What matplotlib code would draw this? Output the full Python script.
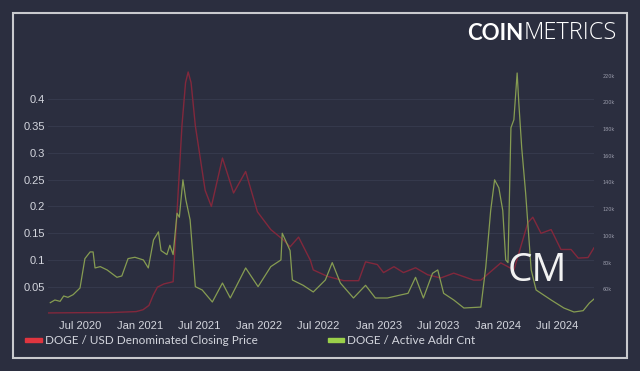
import numpy as np
import pandas as pd
import matplotlib
matplotlib.use("Agg")
from matplotlib import pyplot as plt
from matplotlib.patches import Rectangle

# DOGE / USD closing price (left axis)
price_dates = ["2020-03-25", "2020-07-01", "2020-10-01", "2020-12-20", "2021-01-10",
               "2021-01-28", "2021-02-10", "2021-02-23", "2021-03-15", "2021-04-12",
               "2021-04-24", "2021-05-09", "2021-05-20", "2021-05-28", "2021-06-06",
               "2021-06-19", "2021-07-04",
               "2021-07-19", "2021-08-07", "2021-09-10", "2021-10-14", "2021-11-20",
               "2021-12-26", "2022-02-05", "2022-03-15", "2022-04-05", "2022-05-01",
               "2022-06-06", "2022-06-15", "2022-07-28", "2022-09-16", "2022-11-01",
               "2022-11-22", "2022-12-28", "2023-01-16", "2023-02-17", "2023-03-18",
               "2023-04-24", "2023-05-31", "2023-07-10", "2023-08-19", "2023-10-19",
               "2023-11-10", "2024-01-10", "2024-02-19", "2024-04-02", "2024-04-17",
               "2024-05-12", "2024-06-12", "2024-07-12", "2024-08-12", "2024-09-03",
               "2024-10-03", "2024-10-21"]
price = [0.002, 0.0025, 0.0027, 0.0045, 0.008,
         0.016, 0.035, 0.05, 0.056, 0.06,
         0.19, 0.35, 0.43, 0.45, 0.43,
         0.35, 0.29,
         0.23, 0.20, 0.29, 0.225, 0.265,
         0.19, 0.157, 0.138, 0.125, 0.143,
         0.10, 0.082, 0.07, 0.062, 0.062,
         0.097, 0.092, 0.077, 0.088, 0.077,
         0.086, 0.073, 0.067, 0.076, 0.063,
         0.063, 0.095, 0.082, 0.17, 0.18,
         0.15, 0.157, 0.12, 0.12, 0.104,
         0.105, 0.123]

# DOGE active address count (right axis, thousands)
addr_dates = ["2020-04-01", "2020-04-15", "2020-05-01", "2020-05-12", "2020-05-25",
              "2020-06-10", "2020-07-01", "2020-07-16", "2020-08-01", "2020-08-10",
              "2020-08-16", "2020-09-01", "2020-09-22", "2020-10-22", "2020-11-06",
              "2020-11-25", "2020-12-16", "2021-01-11", "2021-01-26", "2021-02-11",
              "2021-02-26", "2021-03-06", "2021-03-24", "2021-04-02", "2021-04-12",
              "2021-04-24", "2021-05-01", "2021-05-12", "2021-05-21", "2021-06-03",
              "2021-06-19", "2021-07-10", "2021-08-10", "2021-09-10", "2021-10-04",
              "2021-11-20", "2021-12-28", "2022-02-05", "2022-03-08", "2022-03-12",
              "2022-04-05", "2022-04-12", "2022-05-15", "2022-06-15", "2022-07-22",
              "2022-08-12", "2022-09-06", "2022-10-16", "2022-11-22", "2022-12-22",
              "2023-01-28", "2023-03-08", "2023-04-01", "2023-04-24", "2023-05-18",
              "2023-06-15", "2023-07-01", "2023-07-19", "2023-08-19", "2023-09-19",
              "2023-11-10", "2023-11-25", "2023-12-10", "2023-12-22", "2024-01-04",
              "2024-01-16", "2024-01-25", "2024-02-01", "2024-02-10", "2024-02-19",
              "2024-02-29", "2024-03-05", "2024-03-14", "2024-03-26", "2024-04-12",
              "2024-04-27", "2024-06-12", "2024-07-21", "2024-08-21", "2024-09-18",
              "2024-10-07", "2024-10-21"]
addr_k = [50, 52, 51, 55, 54,
          56, 61, 83, 88, 88,
          76, 77, 74.5, 69, 70,
          83, 84, 82, 76, 97,
          103, 89, 86, 93, 86,
          117, 114, 142, 127, 112,
          62, 59.5, 50.5, 64.7, 53.5,
          76, 62, 77, 82, 102,
          89, 67, 63, 58, 67,
          80, 64.7, 53.5, 63, 53.5,
          53.5, 55.7, 57, 69, 53.5,
          72, 74.5, 57, 52, 46,
          46.7, 76.7, 119, 142, 136,
          119, 82, 80, 181, 187,
          222, 200, 166, 132, 74.5,
          59.5, 52, 46, 43, 44,
          49.7, 52.7]

left_ticks = [0.05, 0.1, 0.15, 0.2, 0.25, 0.3, 0.35, 0.4]
left_labels = ["0.05", "0.1", "0.15", "0.2", "0.25", "0.3", "0.35", "0.4"]
right_ticks = [60, 80, 100, 120, 140, 160, 180, 200, 220]
right_labels = ["60k", "80k", "100k", "120k", "140k", "160k", "180k", "200k", "220k"]
x_ticks = ["2020-07-01", "2021-01-01", "2021-07-01", "2022-01-01", "2022-07-01",
           "2023-01-01", "2023-07-01", "2024-01-01", "2024-07-01"]
x_labels = ["Jul 2020", "Jan 2021", "Jul 2021", "Jan 2022", "Jul 2022",
            "Jan 2023", "Jul 2023", "Jan 2024", "Jul 2024"]

BG = "#2b2e3f"
TXT = "#d4d6de"

fig = plt.figure(figsize=(6.4, 3.71), dpi=100, facecolor=BG)
ax = fig.add_axes([0.075, 0.1536, 0.853, 0.6712])
ax.set_facecolor(BG)
ax2 = ax.twinx()

pd_price = pd.to_datetime(price_dates)
pd_addr = pd.to_datetime(addr_dates)

ax.plot(pd_price, price, color="#82283c", lw=1.0, zorder=3)
ax2.plot(pd_addr, addr_k, color="#869c52", lw=0.9, zorder=3)

ax.set_xlim(pd.Timestamp("2020-03-25"), pd.Timestamp("2024-10-21"))
ax.set_ylim(0, 0.463)
ax2.set_ylim(41.5, 228)

ax.set_yticks(left_ticks)
ax.set_yticklabels(left_labels)
ax2.set_yticks(right_ticks)
ax2.set_yticklabels(right_labels)
ax.set_xticks(pd.to_datetime(x_ticks))
ax.set_xticklabels(x_labels)

ax.tick_params(axis="y", length=0, pad=2, labelsize=8, labelcolor=TXT)
ax.tick_params(axis="x", length=0, pad=5, labelsize=8, labelcolor=TXT)
ax2.tick_params(axis="y", length=0, pad=6, labelsize=3.5, labelcolor="#9a9cab")
for lab in ax.get_xticklabels() + ax.get_yticklabels():
    lab.set_family("Liberation Sans")

ax.grid(axis="y", color="#363a4d", lw=0.7)
ax.set_axisbelow(True)
for a in (ax, ax2):
    for s in a.spines.values():
        s.set_visible(False)

# outer frame
fig.patches.append(Rectangle((13 / 640, 1 - 358 / 371), 614 / 640, 345 / 371,
                             transform=fig.transFigure, fill=False,
                             edgecolor="#c9cace", lw=1.5))

# logo: bold COIN followed by light METRICS
coin = fig.text(467 / 640, 1 - 33 / 371, "COIN", fontsize=16, fontweight="bold",
                family="Lato", color="white", va="center", ha="left")
rend = fig.canvas.get_renderer()
x_end = fig.transFigure.inverted().transform(coin.get_window_extent(rend))[1, 0]
fig.text(x_end, 1 - 33 / 371, "METRICS", fontsize=17, fontweight=300,
         family="Open Sans", color="white", va="center", ha="left")

# watermark
fig.text(537 / 640, 1 - 271 / 371, "CM", fontsize=28, fontweight="medium",
         family="Open Sans", color="#f2f2f2", va="center", ha="center", zorder=5)

# legend
fig.patches.append(Rectangle((25 / 640, 1 - 342 / 371), 17 / 640, 4 / 371,
                             transform=fig.transFigure, color="#e0353f"))
fig.text(45 / 640, 1 - 340 / 371, "DOGE / USD Denominated Closing Price",
         fontsize=8.5, family="Lato", color=TXT, va="center")
fig.patches.append(Rectangle((328 / 640, 1 - 342 / 371), 16 / 640, 4 / 371,
                             transform=fig.transFigure, color="#9bd04a"))
fig.text(347 / 640, 1 - 340 / 371, "DOGE / Active Addr Cnt",
         fontsize=8.5, family="Lato", color=TXT, va="center")

fig.savefig("out.png", dpi=100, facecolor=BG)
